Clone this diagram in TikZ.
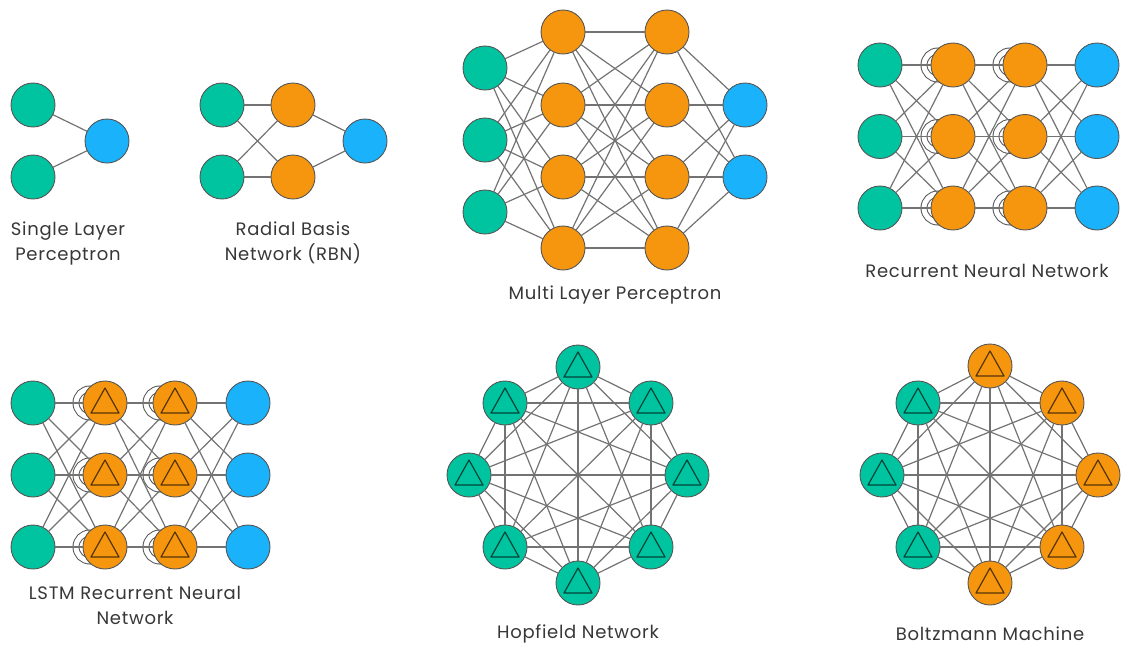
\documentclass[tikz,border=0pt]{standalone}
\usepackage{fontspec}
\setmainfont[LetterSpace=4]{Poppins}
\usetikzlibrary{calc,backgrounds}

\definecolor{nngreen}{RGB}{0,196,160}
\definecolor{nnorange}{RGB}{246,150,14}
\definecolor{nnblue}{RGB}{26,178,250}
\definecolor{nnline}{RGB}{115,115,115}
\definecolor{nnrim}{RGB}{85,85,85}
\definecolor{nntext}{RGB}{55,55,55}

\tikzset{
	unit/.style={circle, draw=nnrim, line width=0.9pt, minimum size=44pt, inner sep=0pt, outer sep=0pt},
	inp/.style={unit, fill=nngreen},
	hid/.style={unit, fill=nnorange},
	outp/.style={unit, fill=nnblue},
	link/.style={draw=nnline, line width=1.2pt},
	loopring/.style={draw=nnrim, line width=1pt, double=white, double distance=5pt},
	caption/.style={text=nntext, font=\fontsize{18}{25}\selectfont, align=center}
}
\def\cell(#1){\draw[line width=1.2pt, draw=black, opacity=0.65, line join=round] ($(#1)+(0,-15)$) -- ($(#1)+(14,10)$) -- ($(#1)+(-14,10)$) -- cycle;}
\def\selfloop(#1){\draw[loopring] ($(#1)+(-15,0)$) circle (14);}

\begin{document}
\begin{tikzpicture}[x=1pt, y=-1pt]
			%%%%% START %%%%%
			\useasboundingbox (0,0) rectangle (1121,646);
			
			% single layer perceptron
			\node[inp] (sp1) at (33,105) {};
			\node[inp] (sp2) at (33,177) {};
			\node[outp] (spo) at (107,141) {};
			\draw[link] (sp1) -- (spo);
			\draw[link] (sp2) -- (spo);
			\node[caption] (spcap) at (68,243) {Single Layer\\Perceptron};
			
			% radial basis network
			\foreach \j/\y in {1/105, 2/177} {
				\node[inp] (rb\j) at (222,\y) {};
				\node[hid] (rh\j) at (293,\y) {};
			}
			\node[outp] (rbo) at (365,141) {};
			\foreach \a in {1,2} {
				\foreach \b in {1,2}
					\draw[link] (rb\a) -- (rh\b);
				\draw[link] (rh\a) -- (rbo);
			}
			\node[caption] (rbcap) at (293,243) {Radial Basis\\Network (RBN)};
			
			% multi layer perceptron
			\foreach \j/\y in {1/68, 2/140, 3/212}
				\node[inp] (mi\j) at (485,\y) {};
			\foreach \j/\y in {1/32, 2/105, 3/177, 4/248} {
				\node[hid] (ma\j) at (563,\y) {};
				\node[hid] (mb\j) at (667,\y) {};
			}
			\foreach \j/\y in {1/105, 2/177}
				\node[outp] (mo\j) at (745,\y) {};
			\foreach \b in {1,...,4} {
				\foreach \a in {1,2,3}
					\draw[link] (mi\a) -- (ma\b);
				\foreach \a in {1,...,4}
					\draw[link] (ma\a) -- (mb\b);
				\foreach \c in {1,2}
					\draw[link] (mb\b) -- (mo\c);
			}
			\node[caption] (mlcap) at (615,295) {Multi Layer Perceptron};
			
			% recurrent neural network
			\foreach \j/\y in {1/65, 2/136.5, 3/208} {
				\node[inp] (ri\j) at (880,\y) {};
				\node[hid] (ra\j) at (953,\y) {};
				\node[hid] (rc\j) at (1025,\y) {};
				\node[outp] (ro\j) at (1097,\y) {};
			}
			\begin{pgfonlayer}{background}
				\foreach \j in {1,2,3} {
					\selfloop(ra\j);
					\selfloop(rc\j);
				}
			\end{pgfonlayer}
			\foreach \a in {1,2,3}
				\foreach \b in {1,2,3} {
					\draw[link] (ri\a) -- (ra\b);
					\draw[link] (ra\a) -- (rc\b);
					\draw[link] (rc\a) -- (ro\b);
				}
			\node[caption] (rncap) at (987,271) {Recurrent Neural Network};
			
			% lstm recurrent neural network
			\foreach \j/\y in {1/403, 2/475, 3/547} {
				\node[inp] (li\j) at (33,\y) {};
				\node[hid] (la\j) at (105,\y) {};
				\node[hid] (lc\j) at (175,\y) {};
				\node[outp] (lo\j) at (248,\y) {};
				\cell(la\j);
				\cell(lc\j);
			}
			\begin{pgfonlayer}{background}
				\foreach \j in {1,2,3} {
					\selfloop(la\j);
					\selfloop(lc\j);
				}
			\end{pgfonlayer}
			\foreach \a in {1,2,3}
				\foreach \b in {1,2,3} {
					\draw[link] (li\a) -- (la\b);
					\draw[link] (la\a) -- (lc\b);
					\draw[link] (lc\a) -- (lo\b);
				}
			\node[caption] (lscap) at (135,605) {LSTM Recurrent Neural\\Network};
			
			% hopfield network
			\foreach \i/\dx/\dy in {1/0/-108, 2/73/-72, 3/109/0, 4/73/72, 5/0/108, 6/-73/72, 7/-109/0, 8/-73/-72} {
				\node[inp] (hp\i) at ($(578,475)+(\dx,\dy)$) {};
				\cell(hp\i);
			}
			\foreach \a in {1,...,7} {
				\pgfmathtruncatemacro\nxt{\a+1}
				\foreach \b in {\nxt,...,8}
					\draw[link] (hp\a) -- (hp\b);
			}
			\node[caption] (hpcap) at (578,634) {Hopfield Network};
			
			% boltzmann machine
			\foreach \i/\dx/\dy/\kind in {1/0/-109/hid, 2/72/-72/hid, 3/108/0/hid, 4/72/72/hid, 5/0/108/hid, 6/-72/72/inp, 7/-108/0/inp, 8/-72/-72/inp} {
				\node[\kind] (bm\i) at ($(990,475)+(\dx,\dy)$) {};
				\cell(bm\i);
			}
			\foreach \a in {1,...,7} {
				\pgfmathtruncatemacro\nxt{\a+1}
				\foreach \b in {\nxt,...,8}
					\draw[link] (bm\a) -- (bm\b);
			}
			\node[caption] (bmcap) at (990,634) {Boltzmann Machine};
			
			%%%%% END %%%%%
\end{tikzpicture}
\end{document}
